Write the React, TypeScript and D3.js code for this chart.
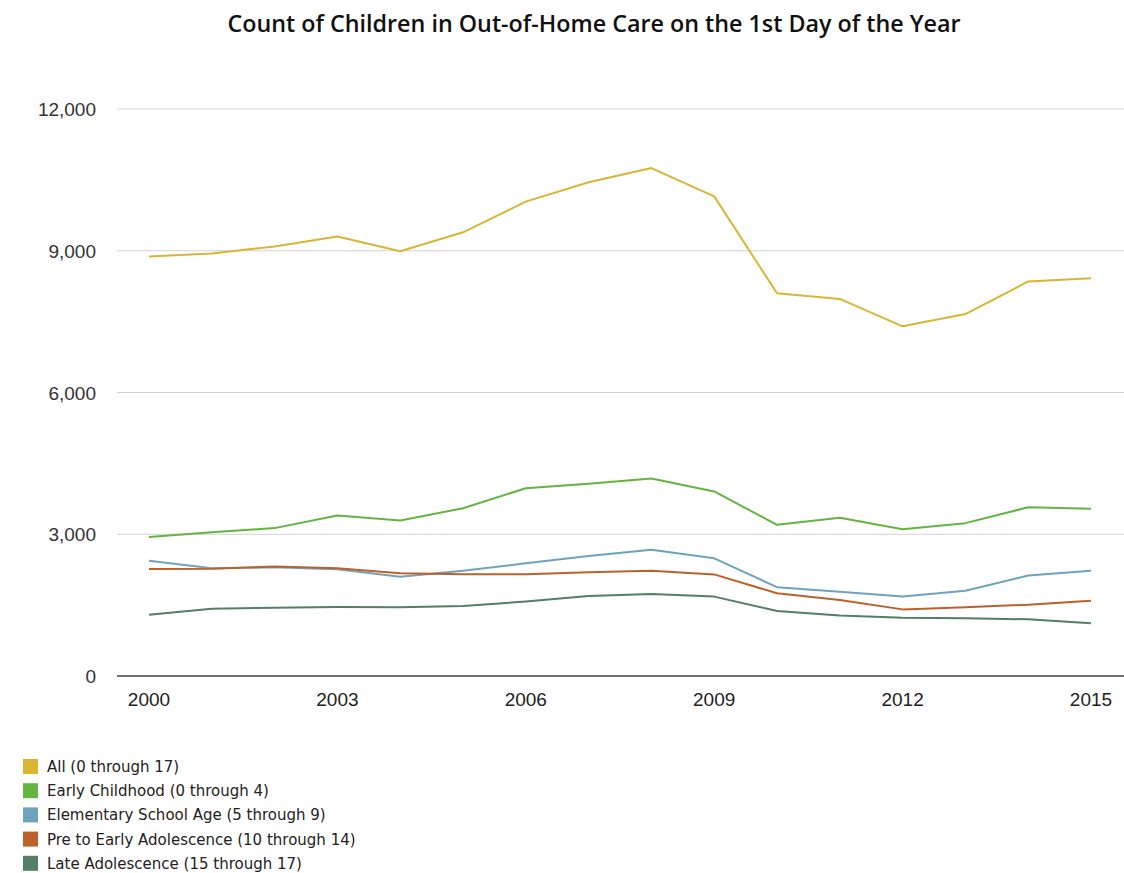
import React from "react";
import * as d3 from "d3";

const years = [2000,2001,2002,2003,2004,2005,2006,2007,2008,2009,2010,2011,2012,2013,2014,2015];
const allAges = [8880,8940,9090,9300,8990,9390,10040,10450,10750,10150,8100,7980,7400,7660,8350,8420];
const earlyChildhood = [2940,3040,3130,3395,3290,3550,3975,4070,4180,3905,3200,3350,3105,3235,3570,3540];
const elementary = [2440,2280,2300,2260,2100,2230,2385,2540,2670,2490,1880,1785,1680,1805,2125,2230];
const preAdolescence = [2265,2270,2315,2280,2175,2155,2155,2195,2225,2150,1750,1610,1410,1455,1510,1595];
const lateAdolescence = [1295,1425,1445,1460,1455,1480,1575,1695,1735,1680,1375,1280,1235,1220,1200,1115];

const seriesNames = [
  "All (0 through 17)",
  "Early Childhood (0 through 4)",
  "Elementary School Age (5 through 9)",
  "Pre to Early Adolescence (10 through 14)",
  "Late Adolescence (15 through 17)",
];
const seriesValues = [allAges, earlyChildhood, elementary, preAdolescence, lateAdolescence];
const seriesColors = ["#d8b634", "#63b540", "#6fa2bb", "#bd612a", "#527f65"];
const yTicks = [0, 3000, 6000, 9000, 12000];
const xTicks = [2000, 2003, 2006, 2009, 2012, 2015];

export default function App() {
  const W = 1124, H = 873;
  const x = d3.scaleLinear().domain([2000, 2015]).range([149, 1091]);
  const y = d3.scaleLinear().domain([0, 12000]).range([676, 109]);
  const line = d3.line<number>().x((_, i) => x(years[i])).y(d => y(d));
  const fmt = d3.format(",");
  return (
    <svg width={W} height={H} style={{ position: "absolute", left: 0, top: 0, background: "#fff" }}>
      <text x={594} y={32} textAnchor="middle" fontFamily="'Open Sans', sans-serif" fontWeight={600} fontSize={23.3} fill="#111">
        Count of Children in Out-of-Home Care on the 1st Day of the Year
      </text>
      {yTicks.map(t => (
        <g key={t}>
          {t !== 0 && <line x1={117} x2={1124} y1={y(t)} y2={y(t)} stroke="#d2d2d2" strokeWidth={1} />}
          <text x={96} y={y(t) + 7} textAnchor="end" fontFamily="'Liberation Sans', Arial, sans-serif" fontSize={19} fill="#333">
            {fmt(t)}
          </text>
        </g>
      ))}
      {seriesValues.map((vals, i) => (
        <path key={i} d={line(vals) || ""} fill="none" stroke={seriesColors[i]} strokeWidth={2} strokeLinejoin="round" />
      ))}
      <line x1={117} x2={1124} y1={y(0)} y2={y(0)} stroke="#444" strokeWidth={1.5} />
      {xTicks.map(t => (
        <text key={t} x={x(t)} y={706} textAnchor="middle" fontFamily="'Liberation Sans', Arial, sans-serif" fontSize={19} fill="#222">
          {t}
        </text>
      ))}
      {seriesNames.map((name, i) => (
        <g key={name}>
          <rect x={23} y={759 + i * 24.2} width={15} height={15} fill={seriesColors[i]} />
          <text x={47} y={772 + i * 24.2} fontFamily="'DejaVu Sans', sans-serif" fontSize={15} fill="#222">
            {name}
          </text>
        </g>
      ))}
    </svg>
  );
}
